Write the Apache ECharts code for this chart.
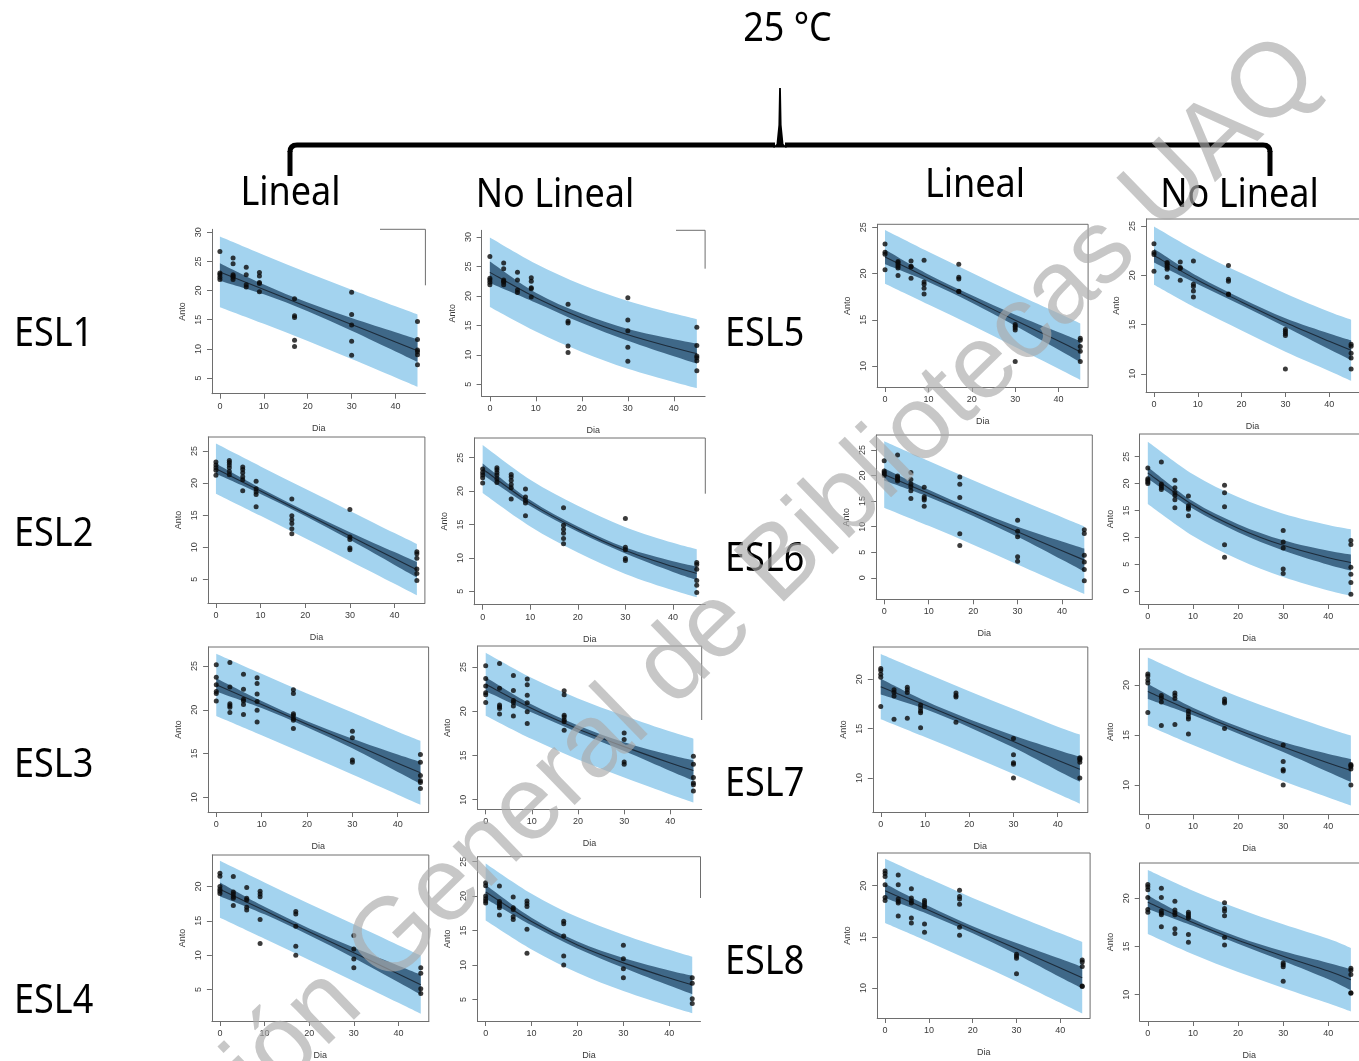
<!DOCTYPE html>
<html><head><meta charset="utf-8">
<script src="https://cdn.jsdelivr.net/npm/echarts@6/dist/echarts.min.js"></script>
<style>html,body{margin:0;padding:0;background:#fff}#c{width:1359px;height:1061px}</style>
</head><body><div id="c"></div>
<script>
// ---------------- DATA ----------------
const dayPts = [0, 3, 6, 9, 17, 30, 45];
const curveDays = [0, 10, 20, 30, 40, 45];
const xTickVals = [0, 10, 20, 30, 40];
const rowLabels = ['ESL1', 'ESL2', 'ESL3', 'ESL4', 'ESL5', 'ESL6', 'ESL7', 'ESL8'];
const colLabels = ['Lineal', 'No Lineal', 'Lineal', 'No Lineal'];
const titleText = '25 °C';
const watermarkText = 'Dirección General de Bibliotecas UAQ';

// observed Anto values, one inner list per day in dayPts
const esl1Anto = [[26.7,23.0,22.7,22.3,21.9],[25.6,24.6,22.7,22.5,22.3,21.9],[24.0,22.7,21.0,20.6],[23.1,22.5,21.4,21.2,19.8],[18.6,15.7,15.4,11.5,10.4],[19.7,15.9,14.1,11.3,8.9],[14.7,11.6,9.8,9.5,9.0,7.3]];
const esl2Anto = [[23.3,22.8,22.4,22.0,21.2],[23.5,23.2,22.8,22.4,21.8,21.3],[22.5,22.1,21.6,21.0,20.5,18.8],[20.3,19.1,18.6,18.2,16.3],[17.5,14.9,14.3,13.7,12.9,12.1],[15.9,11.6,11.2,9.9,9.6],[9.3,9.0,8.3,6.6,5.9,4.8]];
const esl3Anto = [[25.15,23.7,22.85,22.1,21.85,21.0],[25.4,22.6,20.7,20.5,20.3,19.7],[24.05,22.35,21.2,21.0,20.6,19.45],[23.65,23.0,21.8,20.95,19.95,18.6],[22.3,21.85,19.55,19.35,19.0,18.8,17.85],[17.55,16.8,14.25,14.0],[14.9,14.0,12.5,11.9,11.7,11.0]];
const esl4Anto = [[21.95,21.5,20.0,19.6,19.3,19.0],[21.45,19.2,18.9,18.55,18.3,17.25],[19.85,18.3,18.05,17.0,16.6],[19.3,18.9,18.5,15.2,11.7],[16.35,16.0,14.2,11.3,10.0],[12.85,10.9,9.45,8.15],[8.15,7.35,5.1,4.4]];
const esl5Anto = [[23.2,22.3,22.1,20.4],[21.3,21.2,21.0,20.8,20.6,19.8],[21.35,20.8,20.7,19.5],[21.45,19.1,18.85,18.4,17.8],[21.0,19.6,19.4,18.1,18.05],[14.5,14.3,14.1,13.9,10.5],[13.0,12.8,12.1,11.6,10.5]];
const esl6Anto = [[22.9,20.9,20.6,20.3,20.0],[24.0,19.9,19.6,19.2,18.9],[20.6,19.2,18.35,17.8,17.0,15.5],[17.7,15.85,15.5,15.2,14.0],[19.7,18.3,15.7,8.6,6.3],[11.25,9.1,8.0,4.1,3.25],[9.4,8.65,4.4,3.1,1.6,-0.6]];
const esl7Anto = [[21.1,20.9,20.5,20.2,17.25],[18.95,18.7,18.3,15.95],[19.2,18.95,18.65,16.05],[17.4,17.1,16.8,16.6,15.1],[18.6,18.35,18.2,15.65],[14.0,12.35,11.55,11.4,10.0],[12.05,11.95,11.85,11.6,10.0]];
const esl8Anto = [[21.45,21.2,20.9,20.1,18.85,18.55],[21.05,20.1,18.7,18.45,18.3,17.05],[19.7,18.8,18.5,18.3,16.85,16.35],[18.55,18.35,18.15,17.95,16.25,15.45],[19.55,18.95,18.7,18.2,15.95,15.15],[13.3,13.1,12.9,11.4],[12.75,12.55,12.1,10.2,10.15]];

// fitted curves and bands, values at curveDays
const esl1LinFit=[23.2,20.2,17.2,14.2,11.2,9.7], esl1LinCiLo=[21.7,19.35,16.45,13.1,9.55,7.75], esl1LinCiHi=[24.7,21.05,17.95,15.3,12.85,11.65], esl1LinPiLo=[17.15,14.3,11.35,8.25,5.1,3.5], esl1LinPiHi=[29.25,26.1,23.05,20.15,17.3,15.9];
const esl1NlFit=[24.0,19.7,16.2,13.4,11.2,10.2], esl1NlCiLo=[22.2,18.85,15.4,12.4,9.75,8.5], esl1NlCiHi=[25.85,20.55,17.0,14.4,12.65,11.9], esl1NlPiLo=[18.1,13.95,10.5,7.65,5.4,4.35], esl1NlPiHi=[29.9,25.45,21.9,19.15,17.0,16.05];
const esl2LinFit=[22.25,18.75,15.25,11.75,8.25,6.5], esl2LinCiLo=[21.45,18.3,14.85,11.15,7.25,5.3], esl2LinCiHi=[23.05,19.2,15.65,12.35,9.25,7.7], esl2LinPiLo=[18.35,14.9,11.4,7.85,4.3,2.5], esl2LinPiHi=[26.15,22.6,19.1,15.65,12.2,10.5];
const esl2NlFit=[23.3,18.2,14.3,11.1,8.7,7.7], esl2NlCiLo=[22.45,17.75,13.9,10.65,7.9,6.7], esl2NlCiHi=[24.15,18.65,14.7,11.55,9.5,8.7], esl2NlPiLo=[19.7,14.7,10.8,7.6,5.15,4.1], esl2NlPiHi=[26.9,21.7,17.8,14.6,12.25,11.3];
const esl3LinFit=[22.85,20.6,18.35,16.15,13.9,12.8], esl3LinCiLo=[22.1,20.2,18.0,15.6,12.9,11.55], esl3LinCiHi=[23.6,21.0,18.7,16.7,14.9,14.05], esl3LinPiLo=[19.3,17.1,14.85,12.6,10.3,9.15], esl3LinPiHi=[26.4,24.1,21.85,19.7,17.5,16.45];
const esl3NlFit=[23.05,20.3,18.0,16.0,14.15,13.3], esl3NlCiLo=[22.25,19.85,17.6,15.5,13.25,12.15], esl3NlCiHi=[23.85,20.75,18.4,16.5,15.05,14.45], esl3NlPiLo=[19.5,16.85,14.55,12.5,10.6,9.7], esl3NlPiHi=[26.6,23.75,21.45,19.5,17.7,16.9];
const esl4LinFit=[19.6,16.5,13.4,10.35,7.25,5.7], esl4LinCiLo=[18.6,15.95,12.9,9.6,6.05,4.25], esl4LinCiHi=[20.6,17.05,13.9,11.1,8.45,7.15], esl4LinPiLo=[15.45,12.4,9.3,6.2,3.05,1.45], esl4LinPiHi=[23.75,20.6,17.5,14.5,11.45,9.95];
const esl4NlFit=[20.6,16.3,12.9,10.3,8.1,7.1], esl4NlCiLo=[19.6,15.75,12.4,9.6,7.0,5.75], esl4NlCiHi=[21.6,16.85,13.4,11.0,9.2,8.45], esl4NlPiLo=[16.45,12.25,8.85,6.2,4.0,3.0], esl4NlPiHi=[24.75,20.35,16.95,14.4,12.2,11.2];
const esl5LinFit=[21.8,19.5,17.25,14.95,12.7,11.55], esl5LinCiLo=[21.0,19.1,16.85,14.35,11.75,10.4], esl5LinCiHi=[22.6,19.9,17.65,15.55,13.65,12.7], esl5LinPiLo=[18.9,16.65,14.4,12.05,9.7,8.5], esl5LinPiHi=[24.7,22.35,20.1,17.85,15.7,14.6];
const esl5NlFit=[22.0,19.5,17.3,15.2,13.3,12.4], esl5NlCiLo=[21.3,19.1,16.95,14.75,12.5,11.4], esl5NlCiHi=[22.7,19.9,17.65,15.65,14.1,13.4], esl5NlPiLo=[19.05,16.6,14.4,12.25,10.3,9.3], esl5NlPiHi=[24.95,22.4,20.2,18.15,16.3,15.5];
const esl6LinFit=[20.2,16.5,12.75,9.0,5.3,3.45], esl6LinCiLo=[19.0,15.8,12.1,8.0,3.5,1.2], esl6LinCiHi=[21.4,17.2,13.4,10.0,7.1,5.7], esl6LinPiLo=[13.7,10.15,6.45,2.6,-1.25,-3.15], esl6LinPiHi=[26.7,22.85,19.05,15.4,11.85,10.05];
const esl6NlFit=[22.0,16.0,11.7,8.5,6.2,5.3], esl6NlCiLo=[20.9,15.3,10.95,7.55,4.9,3.8], esl6NlCiHi=[23.1,16.7,12.45,9.45,7.5,6.8], esl6NlPiLo=[16.2,10.25,5.9,2.6,0.1,-0.9], esl6NlPiHi=[27.8,21.75,17.5,14.4,12.3,11.5];
const esl7LinFit=[19.25,17.4,15.55,13.7,11.8,10.9], esl7LinCiLo=[18.45,16.98,15.15,13.08,10.75,9.63], esl7LinCiHi=[20.05,17.82,15.95,14.32,12.85,12.17], esl7LinPiLo=[15.95,14.15,12.3,10.4,8.4,7.4], esl7LinPiHi=[22.55,20.65,18.8,17.0,15.2,14.4];
const esl7NlFit=[19.35,17.35,15.5,13.8,12.2,11.45], esl7NlCiLo=[18.6,16.97,15.15,13.3,11.3,10.3], esl7NlCiHi=[20.1,17.73,15.85,14.3,13.1,12.6], esl7NlPiLo=[15.95,14.0,12.15,10.4,8.75,7.95], esl7NlPiHi=[22.75,20.7,18.85,17.2,15.65,14.95];
const esl8LinFit=[19.5,17.6,15.7,13.85,11.95,11.0], esl8LinCiLo=[18.8,17.2,15.35,13.3,11.05,9.95], esl8LinCiHi=[20.2,18.0,16.05,14.4,12.85,12.05], esl8LinPiLo=[16.35,14.5,12.6,10.65,8.55,7.5], esl8LinPiHi=[22.65,20.7,18.8,17.05,15.35,14.5];
const esl8NlFit=[19.6,17.5,15.65,14.0,12.45,11.55], esl8NlCiLo=[18.9,17.15,15.3,13.5,11.6,10.45], esl8NlCiHi=[20.3,17.85,16.0,14.5,13.3,12.65], esl8NlPiLo=[16.3,14.2,12.35,10.7,9.1,8.25], esl8NlPiHi=[22.95,20.8,18.95,17.3,15.8,14.85];

// y-axis tick labels per panel
const yTicksA1=[5,10,15,20,25,30], yTicksB1=[5,10,15,20,25,30], yTicksC1=[10,15,20,25], yTicksD1=[10,15,20,25];
const yTicksA2=[5,10,15,20,25], yTicksB2=[5,10,15,20,25], yTicksC2=[0,5,10,15,20,25], yTicksD2=[0,5,10,15,20,25];
const yTicksA3=[10,15,20,25], yTicksB3=[10,15,20,25], yTicksC3=[10,15,20], yTicksD3=[10,15,20];
const yTicksA4=[5,10,15,20], yTicksB4=[5,10,15,20,25], yTicksC4=[10,15,20], yTicksD4=[10,15,20];

// ---------------- PANELS ----------------
const panels = [
  {pts:esl1Anto, fit:esl1LinFit, ciLo:esl1LinCiLo, ciHi:esl1LinCiHi, piLo:esl1LinPiLo, piHi:esl1LinPiHi, yTicks:yTicksA1},
  {pts:esl1Anto, fit:esl1NlFit, ciLo:esl1NlCiLo, ciHi:esl1NlCiHi, piLo:esl1NlPiLo, piHi:esl1NlPiHi, yTicks:yTicksB1},
  {pts:esl5Anto, fit:esl5LinFit, ciLo:esl5LinCiLo, ciHi:esl5LinCiHi, piLo:esl5LinPiLo, piHi:esl5LinPiHi, yTicks:yTicksC1},
  {pts:esl5Anto, fit:esl5NlFit, ciLo:esl5NlCiLo, ciHi:esl5NlCiHi, piLo:esl5NlPiLo, piHi:esl5NlPiHi, yTicks:yTicksD1},
  {pts:esl2Anto, fit:esl2LinFit, ciLo:esl2LinCiLo, ciHi:esl2LinCiHi, piLo:esl2LinPiLo, piHi:esl2LinPiHi, yTicks:yTicksA2},
  {pts:esl2Anto, fit:esl2NlFit, ciLo:esl2NlCiLo, ciHi:esl2NlCiHi, piLo:esl2NlPiLo, piHi:esl2NlPiHi, yTicks:yTicksB2},
  {pts:esl6Anto, fit:esl6LinFit, ciLo:esl6LinCiLo, ciHi:esl6LinCiHi, piLo:esl6LinPiLo, piHi:esl6LinPiHi, yTicks:yTicksC2},
  {pts:esl6Anto, fit:esl6NlFit, ciLo:esl6NlCiLo, ciHi:esl6NlCiHi, piLo:esl6NlPiLo, piHi:esl6NlPiHi, yTicks:yTicksD2},
  {pts:esl3Anto, fit:esl3LinFit, ciLo:esl3LinCiLo, ciHi:esl3LinCiHi, piLo:esl3LinPiLo, piHi:esl3LinPiHi, yTicks:yTicksA3},
  {pts:esl3Anto, fit:esl3NlFit, ciLo:esl3NlCiLo, ciHi:esl3NlCiHi, piLo:esl3NlPiLo, piHi:esl3NlPiHi, yTicks:yTicksB3},
  {pts:esl7Anto, fit:esl7LinFit, ciLo:esl7LinCiLo, ciHi:esl7LinCiHi, piLo:esl7LinPiLo, piHi:esl7LinPiHi, yTicks:yTicksC3},
  {pts:esl7Anto, fit:esl7NlFit, ciLo:esl7NlCiLo, ciHi:esl7NlCiHi, piLo:esl7NlPiLo, piHi:esl7NlPiHi, yTicks:yTicksD3},
  {pts:esl4Anto, fit:esl4LinFit, ciLo:esl4LinCiLo, ciHi:esl4LinCiHi, piLo:esl4LinPiLo, piHi:esl4LinPiHi, yTicks:yTicksA4},
  {pts:esl4Anto, fit:esl4NlFit, ciLo:esl4NlCiLo, ciHi:esl4NlCiHi, piLo:esl4NlPiLo, piHi:esl4NlPiHi, yTicks:yTicksB4},
  {pts:esl8Anto, fit:esl8LinFit, ciLo:esl8LinCiLo, ciHi:esl8LinCiHi, piLo:esl8LinPiLo, piHi:esl8LinPiHi, yTicks:yTicksC4},
  {pts:esl8Anto, fit:esl8NlFit, ciLo:esl8NlCiLo, ciHi:esl8NlCiHi, piLo:esl8NlPiLo, piHi:esl8NlPiHi, yTicks:yTicksD4}
];

// layout: [left, top, width, height, yMin, yMax]; box sides: top [x0,x1] | 'full' | null, right [y0,y1] | 'full' | null
const layout = [
  {g:[212.0,229.3,213.4,164.4, 2.32,30.5],  top:[380,425.4], right:[229.3,285.3]},
  {g:[481.6,230.3,223.5,166.0, 2.96,31.14], top:[676,705.1], right:[230.3,268.7]},
  {g:[877.2,224.3,210.9,162.7, 7.73,25.33], top:'full', right:'full'},
  {g:[1146.1,219.0,217.0,173.0, 8.16,25.71], top:'full', right:null},
  {g:[207.9,437.0,217.0,166.0, 1.31,27.18], top:'full', right:'full'},
  {g:[474.1,438.0,231.2,166.7, 2.99,27.95], top:'full', right:[438,493.7]},
  {g:[876.2,435.0,216.1,164.3, -4.21,27.92], top:'full', right:'full'},
  {g:[1139.7,434.0,222.3,170.0, -2.42,29.23], top:'full', right:null},
  {g:[208.1,647.0,220.5,165.0, 8.32,27.17], top:'full', right:'full'},
  {g:[477.4,646.0,224.3,163.3, 8.92,27.37], top:'full', right:[646,720]},
  {g:[872.8,647.0,215.0,165.0, 6.56,23.27], top:'full', right:'full'},
  {g:[1139.7,649.0,226.3,165.3, 7.07,23.6], top:'full', right:null},
  {g:[211.9,855.0,216.9,166.7, 0.4,24.6],  top:'full', right:'full'},
  {g:[477.4,856.7,223.1,165.0, 1.86,25.72], top:'full', right:[856.7,898]},
  {g:[877.2,853.0,212.9,165.0, 7.07,23.2], top:'full', right:'full'},
  {g:[1139.7,863.0,225.7,164.0, 7.27,23.67], top:'full', right:null}
];

const C_PI = '#A3D3EF', C_CI = '#3F6888', C_FIT = '#1C2B3A', C_PT = '#0a0a0a', C_BOX = '#6e6e6e', C_TXT = '#3a3a3a';
const plotFont = 'Liberation Sans';

const grids = [], xAxes = [], yAxes = [], series = [], graphics = [];

// Catmull-Rom segments through pixel points (rendering helper only)
function splineSegs(pts) {
  let d = '';
  for (let k = 0; k < pts.length - 1; k++) {
    const p0 = pts[Math.max(k - 1, 0)], p1 = pts[k], p2 = pts[k + 1], p3 = pts[Math.min(k + 2, pts.length - 1)];
    const c1x = p1[0] + (p2[0] - p0[0]) / 6, c1y = p1[1] + (p2[1] - p0[1]) / 6;
    const c2x = p2[0] - (p3[0] - p1[0]) / 6, c2y = p2[1] - (p3[1] - p1[1]) / 6;
    d += ' C' + c1x + ',' + c1y + ' ' + c2x + ',' + c2y + ' ' + p2[0] + ',' + p2[1];
  }
  return d;
}
function bandSeries(i, lo, hi, color, z) {
  return {
    type: 'custom', xAxisIndex: i, yAxisIndex: i, silent: true, clip: true, z,
    data: [[curveDays[0], lo[0]]],
    renderItem: (params, api) => {
      const up = curveDays.map((x, k) => api.coord([x, hi[k]]));
      const dn = curveDays.map((x, k) => api.coord([x, lo[k]])).reverse();
      const d = 'M' + up[0][0] + ',' + up[0][1] + splineSegs(up) + ' L' + dn[0][0] + ',' + dn[0][1] + splineSegs(dn) + ' Z';
      return {type: 'path', shape: {pathData: d}, style: {fill: color, stroke: null}};
    }
  };
}
function curveSeries(i, vals, color, z) {
  return {
    type: 'custom', xAxisIndex: i, yAxisIndex: i, silent: true, clip: true, z,
    data: [[curveDays[0], vals[0]]],
    renderItem: (params, api) => {
      const pts = curveDays.map((x, k) => api.coord([x, vals[k]]));
      const d = 'M' + pts[0][0] + ',' + pts[0][1] + splineSegs(pts);
      return {type: 'path', shape: {pathData: d}, style: {fill: null, stroke: color, lineWidth: 1.1}};
    }
  };
}

panels.forEach((p, i) => {
  const L = layout[i];
  const [left, top, width, height, ymin, ymax] = L.g;
  grids.push({left, top, width, height, show: false});
  xAxes.push({
    gridIndex: i, type: 'value', min: -1.8, max: 46.8, z: 10,
    axisLine: {show: true, onZero: false, lineStyle: {color: C_BOX, width: 1}},
    axisTick: {show: true, length: 5, customValues: xTickVals, lineStyle: {color: C_BOX}},
    axisLabel: {customValues: xTickVals, fontSize: 9, color: C_TXT, margin: 8, fontFamily: plotFont},
    splitLine: {show: false},
    name: 'Dia', nameLocation: 'middle', nameGap: 30,
    nameTextStyle: {fontSize: 9, color: C_TXT, fontFamily: plotFont}
  });
  yAxes.push({
    gridIndex: i, type: 'value', min: ymin, max: ymax, z: 10,
    axisLine: {show: true, onZero: false, lineStyle: {color: C_BOX, width: 1}},
    axisTick: {show: true, length: 5, customValues: p.yTicks, lineStyle: {color: C_BOX}},
    axisLabel: {customValues: p.yTicks, fontSize: 9, color: C_TXT, margin: 9, rotate: 90, fontFamily: plotFont},
    splitLine: {show: false},
    name: 'Anto', nameLocation: 'middle', nameGap: 25,
    nameTextStyle: {fontSize: 9, color: C_TXT, fontFamily: plotFont}
  });
  series.push(bandSeries(i, p.piLo, p.piHi, C_PI, 2));
  series.push(bandSeries(i, p.ciLo, p.ciHi, C_CI, 3));
  series.push(curveSeries(i, p.fit, C_FIT, 4));
  const pts = [];
  p.pts.forEach((vals, d) => vals.forEach(v => pts.push([dayPts[d], v])));
  series.push({type: 'scatter', xAxisIndex: i, yAxisIndex: i, data: pts, symbolSize: 5, z: 5,
    itemStyle: {color: C_PT}, silent: true});

  // box sides (decoration)
  const right = left + width, bottom = top + height;
  const ls = {stroke: C_BOX, lineWidth: 1};
  if (L.top) {
    const t = L.top === 'full' ? [left, right] : L.top;
    graphics.push({type: 'line', shape: {x1: t[0], y1: top, x2: t[1], y2: top}, style: ls, z: 5});
  }
  if (L.right) {
    const r = L.right === 'full' ? [top, bottom] : L.right;
    graphics.push({type: 'line', shape: {x1: right, y1: r[0], x2: right, y2: r[1]}, style: ls, z: 5});
  }
});

// ---------------- TEXTS & BRACKET ----------------
const bigFont = 'Noto Sans';
function bigText(text, x, y, align) {
  return {type: 'text', x, y, scaleX: 0.9, z: 50,
    style: {text, fontSize: 40, fontFamily: bigFont, fill: '#000', align, verticalAlign: 'middle', textAlign: align, textVerticalAlign: 'middle'}};
}
graphics.push(bigText(titleText, 787.5, 30, 'center'));
graphics.push(bigText(colLabels[0], 290.5, 193.5, 'center'));
graphics.push(bigText(colLabels[1], 555, 195.5, 'center'));
graphics.push(bigText(colLabels[2], 975, 185.5, 'center'));
graphics.push(bigText(colLabels[3], 1239.5, 195.5, 'center'));
const rowY = [334.5, 535, 766, 1002, 334.5, 560, 785, 963];
rowLabels.forEach((t, k) => graphics.push(bigText(t, k < 4 ? 14 : 725, rowY[k], 'left')));

const bs = {stroke: '#000', lineWidth: 5, fill: null, lineCap: 'butt'};
graphics.push({type: 'line', shape: {x1: 297, y1: 145, x2: 775, y2: 145}, style: bs, z: 40});
graphics.push({type: 'line', shape: {x1: 785, y1: 145, x2: 1263, y2: 145}, style: bs, z: 40});
graphics.push({type: 'bezierCurve', shape: {x1: 297, y1: 145, cpx1: 290, cpy1: 145, x2: 290, y2: 152}, style: bs, z: 40});
graphics.push({type: 'bezierCurve', shape: {x1: 1263, y1: 145, cpx1: 1270, cpy1: 145, x2: 1270, y2: 152}, style: bs, z: 40});
graphics.push({type: 'line', shape: {x1: 290, y1: 151, x2: 290, y2: 176}, style: bs, z: 40});
graphics.push({type: 'line', shape: {x1: 1270, y1: 151, x2: 1270, y2: 176}, style: bs, z: 40});
graphics.push({type: 'polygon', shape: {points: [[773, 147.5], [776.5, 144], [778.4, 125], [779.1, 88], [780.9, 88], [781.6, 125], [783.5, 144], [787, 147.5]]}, style: {fill: '#000'}, z: 40});

// watermark
graphics.push({type: 'text', x: 668, y: 674, rotation: 44.2 * Math.PI / 180, z: 100,
  style: {text: watermarkText, fontSize: 104.5, fontFamily: 'Liberation Sans', fill: 'rgba(170,170,170,0.66)', align: 'center', verticalAlign: 'middle', textAlign: 'center', textVerticalAlign: 'middle'}});

const chart = echarts.init(document.getElementById('c'), null, {renderer: 'canvas'});
chart.setOption({
  animation: false,
  backgroundColor: '#fff',
  grid: grids, xAxis: xAxes, yAxis: yAxes, series,
  graphic: {elements: graphics}
});
</script>
</body></html>
